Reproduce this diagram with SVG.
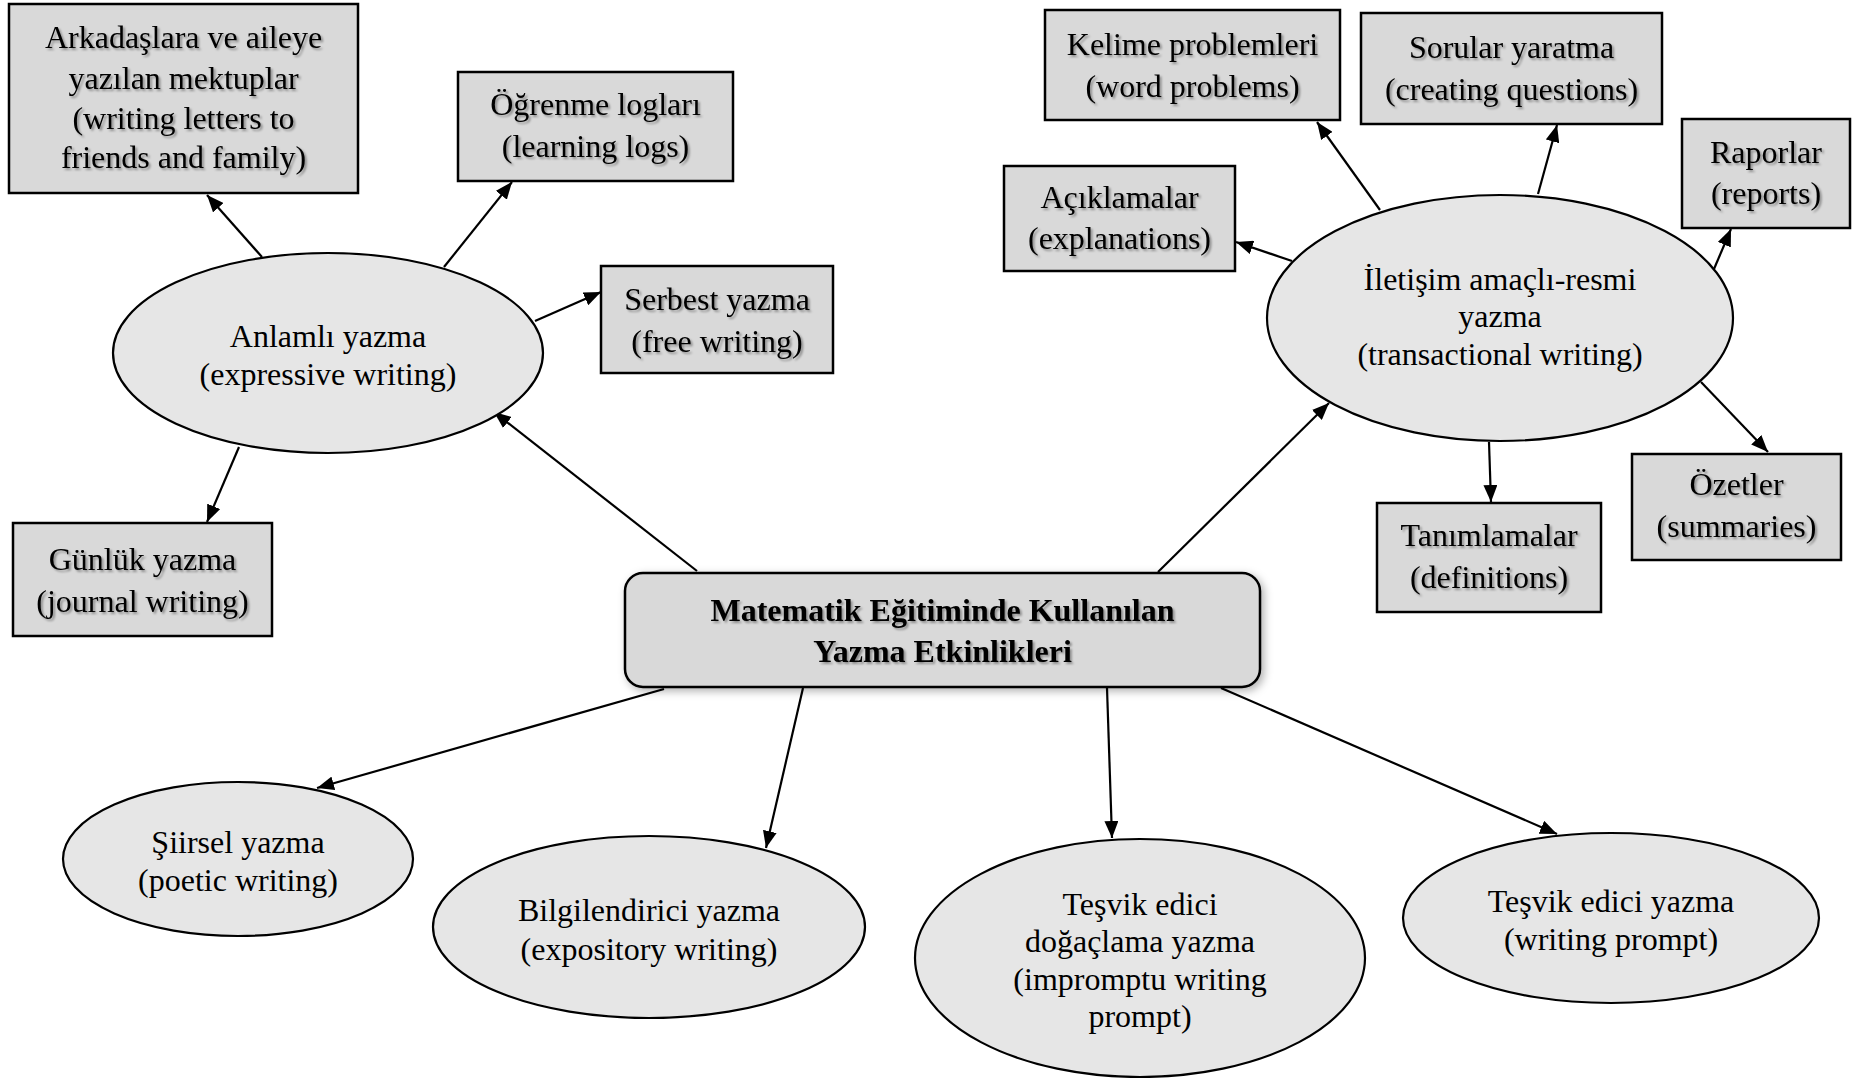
<svg xmlns="http://www.w3.org/2000/svg" width="1852" height="1078" viewBox="0 0 1852 1078">
<style>
  .box { fill: #d9d9d9; stroke: #000; stroke-width: 2.5; }
  .ell { fill: #e6e6e6; stroke: #000; stroke-width: 2.2; }
  .main { fill: #d9d9d9; stroke: #000; stroke-width: 2.5; filter: url(#boxShadow); }
  text { font-family: "Liberation Serif", "Times New Roman", serif; font-size: 32px; fill: #000; text-anchor: middle; }
  .bt { filter: url(#textShadow); }
  .mt { font-weight: bold; filter: url(#textShadow); }
  .conn line { stroke: #000; stroke-width: 2.2; marker-end: url(#arrow); }
</style>
<defs>
  <marker id="arrow" markerUnits="userSpaceOnUse" markerWidth="18" markerHeight="14" refX="17" refY="7" orient="auto">
    <path d="M0,0 L17,7 L0,14 z" fill="#000"/>
  </marker>
  <filter id="textShadow" x="-10%" y="-30%" width="120%" height="160%">
    <feDropShadow dx="2" dy="2" stdDeviation="1.3" flood-color="#000" flood-opacity="0.35"/>
  </filter>
  <filter id="boxShadow" x="-5%" y="-10%" width="115%" height="130%">
    <feDropShadow dx="3" dy="3" stdDeviation="4" flood-color="#000" flood-opacity="0.3"/>
  </filter>
</defs>
<rect width="1852" height="1078" fill="#fff"/>

<g id="connectors" class="conn">
  <line x1="262" y1="257" x2="207" y2="195"/>
  <line x1="444" y1="267" x2="512" y2="182"/>
  <line x1="535" y1="321" x2="601" y2="292"/>
  <line x1="239" y1="447" x2="207" y2="522"/>
  <line x1="697" y1="571" x2="494" y2="412"/>
  <line x1="1158" y1="572" x2="1329" y2="403"/>
  <line x1="1380" y1="210" x2="1317" y2="122"/>
  <line x1="1538" y1="194" x2="1557" y2="125"/>
  <line x1="1292" y1="261" x2="1236" y2="242"/>
  <line x1="1714" y1="269" x2="1731" y2="229"/>
  <line x1="1701" y1="382" x2="1768" y2="452"/>
  <line x1="1489" y1="442" x2="1491" y2="502"/>
  <line x1="664" y1="689" x2="317" y2="788"/>
  <line x1="803" y1="688" x2="766" y2="848"/>
  <line x1="1107" y1="688" x2="1112" y2="838"/>
  <line x1="1221" y1="688" x2="1557" y2="834"/>
</g>

<g id="node-central">
  <rect class="main" x="625" y="573" width="635" height="114" rx="18" ry="18"/>
  <text class="mt" x="942.5" y="621">Matematik Eğitiminde Kullanılan</text>
  <text class="mt" x="942.5" y="662">Yazma Etkinlikleri</text>
</g>

<g id="node-anlamli">
  <ellipse class="ell" cx="328" cy="353" rx="215" ry="100"/>
  <text x="328" y="347">Anlamlı yazma</text>
  <text x="328" y="385">(expressive writing)</text>
</g>

<g id="node-arkadaslara">
  <rect class="box" x="9" y="4" width="349" height="189"/>
  <text class="bt" x="183.5" y="48">Arkadaşlara ve aileye</text>
  <text class="bt" x="183.5" y="89">yazılan mektuplar</text>
  <text class="bt" x="183.5" y="129">(writing letters to</text>
  <text class="bt" x="183.5" y="168">friends and family)</text>
</g>

<g id="node-ogrenme">
  <rect class="box" x="458" y="72" width="275" height="109"/>
  <text class="bt" x="595.5" y="115">Öğrenme logları</text>
  <text class="bt" x="595.5" y="157">(learning logs)</text>
</g>

<g id="node-serbest">
  <rect class="box" x="601" y="266" width="232" height="107"/>
  <text class="bt" x="717" y="310">Serbest yazma</text>
  <text class="bt" x="717" y="352">(free writing)</text>
</g>

<g id="node-gunluk">
  <rect class="box" x="13" y="523" width="259" height="113"/>
  <text class="bt" x="142.5" y="570">Günlük yazma</text>
  <text class="bt" x="142.5" y="612">(journal writing)</text>
</g>

<g id="node-iletisim">
  <ellipse class="ell" cx="1500" cy="318" rx="233" ry="123"/>
  <text x="1500" y="290">İletişim amaçlı-resmi</text>
  <text x="1500" y="327">yazma</text>
  <text x="1500" y="365">(transactional writing)</text>
</g>

<g id="node-kelime">
  <rect class="box" x="1045" y="10" width="295" height="110"/>
  <text class="bt" x="1192.5" y="55">Kelime problemleri</text>
  <text class="bt" x="1192.5" y="97">(word problems)</text>
</g>

<g id="node-sorular">
  <rect class="box" x="1361" y="13" width="301" height="111"/>
  <text class="bt" x="1511.5" y="58">Sorular yaratma</text>
  <text class="bt" x="1511.5" y="100">(creating questions)</text>
</g>

<g id="node-aciklamalar">
  <rect class="box" x="1004" y="166" width="231" height="105"/>
  <text class="bt" x="1119.5" y="208">Açıklamalar</text>
  <text class="bt" x="1119.5" y="249">(explanations)</text>
</g>

<g id="node-raporlar">
  <rect class="box" x="1682" y="119" width="168" height="109"/>
  <text class="bt" x="1766" y="163">Raporlar</text>
  <text class="bt" x="1766" y="204">(reports)</text>
</g>

<g id="node-ozetler">
  <rect class="box" x="1632" y="454" width="209" height="106"/>
  <text class="bt" x="1736.5" y="495">Özetler</text>
  <text class="bt" x="1736.5" y="537">(summaries)</text>
</g>

<g id="node-tanimlamalar">
  <rect class="box" x="1377" y="503" width="224" height="109"/>
  <text class="bt" x="1489" y="546">Tanımlamalar</text>
  <text class="bt" x="1489" y="588">(definitions)</text>
</g>

<g id="node-siirsel">
  <ellipse class="ell" cx="238" cy="859" rx="175" ry="77"/>
  <text x="238" y="853">Şiirsel yazma</text>
  <text x="238" y="891">(poetic writing)</text>
</g>

<g id="node-bilgilendirici">
  <ellipse class="ell" cx="649" cy="927" rx="216" ry="91"/>
  <text x="649" y="921">Bilgilendirici yazma</text>
  <text x="649" y="960">(expository writing)</text>
</g>

<g id="node-dogaclama">
  <ellipse class="ell" cx="1140" cy="958" rx="225" ry="119"/>
  <text x="1140" y="915">Teşvik edici</text>
  <text x="1140" y="952">doğaçlama yazma</text>
  <text x="1140" y="990">(impromptu writing</text>
  <text x="1140" y="1027">prompt)</text>
</g>

<g id="node-tesvik">
  <ellipse class="ell" cx="1611" cy="918" rx="208" ry="85"/>
  <text x="1611" y="912">Teşvik edici yazma</text>
  <text x="1611" y="950">(writing prompt)</text>
</g>
</svg>
